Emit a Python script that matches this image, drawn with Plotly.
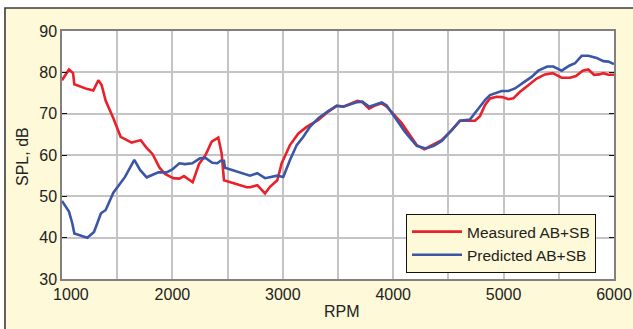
import plotly.graph_objects as go

rpm_measured = [1000, 1063, 1100, 1112, 1223, 1284, 1329, 1359, 1396, 1465, 1531, 1631, 1713, 1761,
                1821, 1882, 1933, 2008, 2063, 2105, 2184, 2241, 2300, 2356, 2416, 2446, 2467, 2673,
                2703, 2769, 2839, 2884, 2950, 2990, 3065, 3141, 3216, 3322, 3412, 3488, 3548, 3600,
                3675, 3720, 3781, 3829, 3896, 3941, 4001, 4077, 4152, 4213, 4282, 4353, 4439, 4530,
                4605, 4680, 4741, 4786, 4832, 4877, 4937, 4990, 5043, 5088, 5149, 5224, 5300, 5375,
                5445, 5526, 5602, 5656, 5716, 5767, 5819, 5867, 5903, 5949, 6000]
spl_measured = [78.1, 80.7, 79.8, 77.1, 76.0, 75.6, 78.1, 76.9, 73.1, 68.9, 64.4, 63.0, 63.6, 61.9,
                60.2, 57.0, 55.4, 54.4, 54.3, 54.9, 53.4, 57.8, 60.0, 63.2, 64.2, 60.4, 53.9, 52.2,
                52.2, 52.7, 50.7, 52.3, 53.9, 58.0, 62.4, 65.2, 66.8, 68.5, 70.5, 71.9, 71.7, 72.3,
                73.1, 72.8, 71.2, 71.9, 72.5, 71.7, 69.9, 67.7, 64.8, 62.4, 61.4, 62.4, 63.6, 66.0,
                68.3, 68.3, 68.3, 69.4, 72.1, 73.7, 74.1, 74.0, 73.5, 73.7, 75.3, 76.9, 78.5, 79.5,
                79.8, 78.7, 78.7, 79.1, 80.4, 80.7, 79.4, 79.5, 79.8, 79.4, 79.4]

rpm_predicted = [1000, 1063, 1093, 1112, 1229, 1290, 1353, 1396, 1465, 1571, 1655, 1707, 1767, 1873,
                 1948, 1999, 2063, 2113, 2180, 2250, 2300, 2361, 2407, 2437, 2467, 2476, 2703, 2769,
                 2839, 2950, 3004, 3065, 3126, 3186, 3246, 3322, 3412, 3488, 3548, 3675, 3720, 3781,
                 3896, 3941, 4016, 4107, 4213, 4297, 4368, 4439, 4530, 4605, 4695, 4771, 4832, 4877,
                 4983, 5043, 5103, 5178, 5254, 5314, 5396, 5450, 5526, 5595, 5647, 5707, 5767, 5843,
                 5903, 5949, 6000]
spl_predicted = [48.9, 46.3, 43.5, 41.0, 40.0, 41.4, 45.9, 46.7, 50.9, 54.7, 58.8, 56.4, 54.6, 55.8,
                 55.8, 56.5, 58.0, 57.8, 58.0, 59.2, 59.3, 58.1, 58.0, 58.6, 58.6, 56.9, 55.0, 55.6,
                 54.4, 55.0, 54.7, 58.8, 62.4, 64.4, 66.8, 68.9, 70.6, 71.9, 71.7, 72.8, 72.9, 71.7,
                 72.7, 72.0, 69.1, 65.6, 62.2, 61.6, 62.2, 63.4, 66.0, 68.3, 68.6, 71.3, 73.3, 74.5,
                 75.5, 75.5, 76.1, 77.5, 78.9, 80.4, 81.4, 81.4, 80.4, 81.6, 82.2, 84.0, 84.0, 83.5,
                 82.7, 82.6, 82.0]

x_ticks = [1000, 2000, 3000, 4000, 5000, 6000]
x_tick_labels = ["\u00a0\u00a0\u00a0\u00a01000", "2000", "3000", "4000", "5000", "6000"]
y_ticks = [30, 40, 50, 60, 70, 80, 90]
y_tick_labels = ["30", "40", "50", "60", "70", "80", "90"]

FONT = "Liberation Sans, Arial, Helvetica, sans-serif"
BG = "#fef9d8"
TXT = "#222222"

fig = go.Figure()
fig.add_trace(go.Scatter(x=rpm_measured, y=spl_measured, mode="lines", name="Measured AB+SB",
                         line=dict(color="#e8212b", width=2.6)))
fig.add_trace(go.Scatter(x=rpm_predicted, y=spl_predicted, mode="lines", name="Predicted AB+SB",
                         line=dict(color="#3b56a6", width=2.6)))

L, R, T, B = 62, 19, 31, 50
W, H = 633, 329
pw, ph = W - L - R, H - T - B

def px2x(px):
    return (px - L) / pw

def py2y(py):
    return (H - B - py) / ph

shapes = [
    dict(type="rect", xref="paper", yref="paper", x0=px2x(-2), x1=px2x(W + 2), y0=py2y(8), y1=py2y(-2),
         fillcolor="white", line=dict(width=0), layer="below"),
    dict(type="rect", xref="paper", yref="paper", x0=px2x(-2), x1=px2x(5), y0=py2y(H + 2), y1=py2y(-2),
         fillcolor="white", line=dict(width=0), layer="below"),
    dict(type="path", xref="paper", yref="paper",
         path=f"M {px2x(5)} {py2y(H + 2)} L {px2x(5)} {py2y(8)} L {px2x(W + 2)} {py2y(8)}",
         line=dict(color="#3a3a3a", width=1.6)),
]

annotations = [
    dict(text="SPL, dB", xref="paper", yref="paper", x=px2x(22), y=py2y(157), showarrow=False,
         textangle=-90, xanchor="center", yanchor="middle", font=dict(family=FONT, size=16, color=TXT)),
    dict(text="RPM", xref="paper", yref="paper", x=px2x(342), y=py2y(311), showarrow=False,
         xanchor="center", yanchor="middle", font=dict(family=FONT, size=16, color=TXT)),
]

fig.update_layout(
    width=W, height=H,
    margin=dict(l=L, r=R, t=T, b=B, pad=0, autoexpand=False),
    paper_bgcolor=BG, plot_bgcolor="white",
    font=dict(family=FONT, size=16, color=TXT),
    showlegend=True,
    legend=dict(x=px2x(406), y=py2y(214), xanchor="left", yanchor="top",
                bgcolor=BG, bordercolor="#111111", borderwidth=1,
                font=dict(family=FONT, size=15.5, color=TXT),
                tracegroupgap=0, itemwidth=50),
    shapes=shapes,
    annotations=annotations,
)
fig.update_xaxes(range=[1000, 6000], tickvals=x_ticks, ticktext=x_tick_labels, automargin=False,
                 ticklabeloverflow="allow",
                 showgrid=True, gridcolor="#c4c4c4", gridwidth=1.5,
                 minor=dict(dtick=500, showgrid=True, gridcolor="#c4c4c4", gridwidth=1.5),
                 showline=True, linecolor="#808080", linewidth=1.5, mirror=True,
                 ticks="", zeroline=False, tickfont=dict(size=16))
fig.update_yaxes(range=[30, 90], tickvals=y_ticks, ticktext=y_tick_labels, automargin=False,
                 showgrid=True, gridcolor="#c4c4c4", gridwidth=1.5,
                 showline=True, linecolor="#808080", linewidth=1.5, mirror="ticks",
                 ticks="inside", ticklen=5, tickcolor="#111111", tickwidth=1,
                 zeroline=False, tickfont=dict(size=16))

fig.write_html("out.html",
               config={"displayModeBar": False},
               post_script="document.body.style.margin='0';document.body.style.padding='0';"
                           "document.body.style.overflow='hidden';")
